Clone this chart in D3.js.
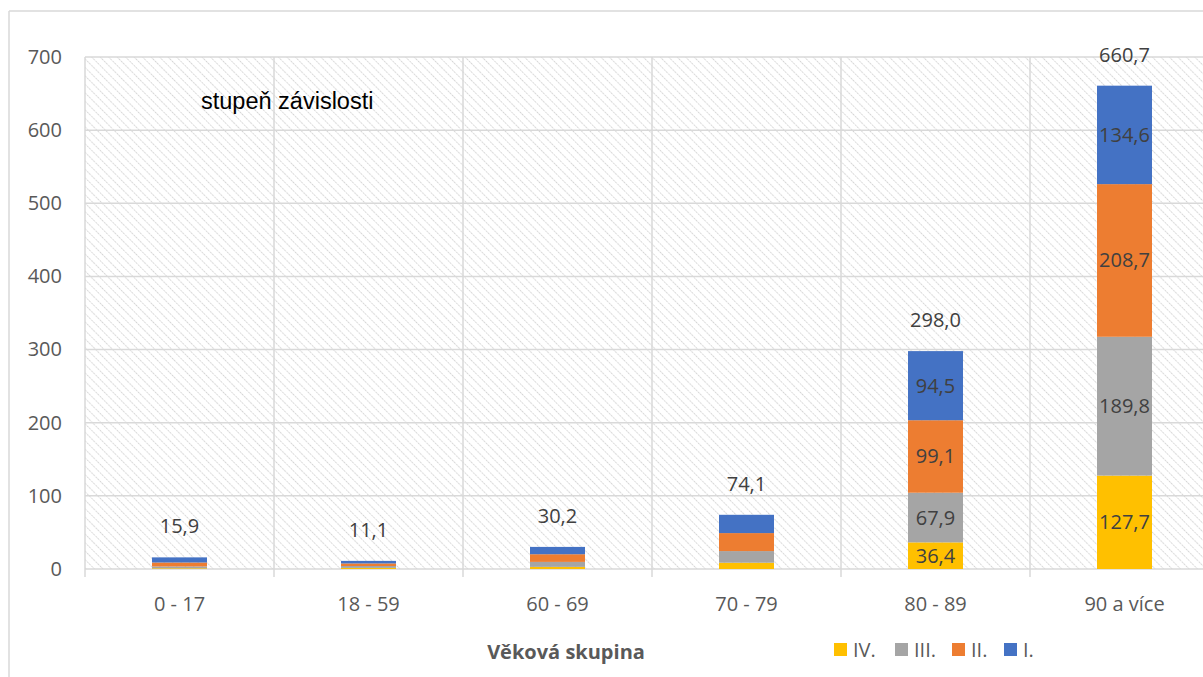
<!DOCTYPE html>
<html><head><meta charset="utf-8">
<script src="https://cdn.jsdelivr.net/npm/d3@7"></script>
<style>body{margin:0;background:#fff;}svg{display:block;}</style>
</head><body>
<svg id="c" width="1203" height="677"></svg>
<script>
const categories = ["0 - 17","18 - 59","60 - 69","70 - 79","80 - 89","90 a více"];
const seriesNames = ["IV.","III.","II.","I."];
const valIV  = [1.0, 1.5, 2.9, 8.6, 36.4, 127.7];
const valIII = [2.5, 2.6, 6.8, 15.9, 67.9, 189.8];
const valII  = [5.4, 3.5, 10.5, 24.6, 99.1, 208.7];
const valI   = [7.0, 3.5, 10.0, 25.0, 94.5, 134.6];
const totals = [15.9, 11.1, 30.2, 74.1, 298.0, 660.7];
const showSegLabels = [false,false,false,false,true,true];
const yTicks = [0,100,200,300,400,500,600,700];
const colors = ["#FFC000","#A5A5A5","#ED7D31","#4472C4"];

(function(){
const svg = d3.select("#c");
const fmt = v => d3.format(".1f")(v).replace(".", ",");
const font = "'Open Sans', sans-serif";
const fs = "20px";

// outer frame
svg.append("line").attr("x1",9).attr("x2",1203).attr("y1",11).attr("y2",11).attr("stroke","#d9d9d9").attr("stroke-width",1.5);
svg.append("line").attr("x1",9).attr("x2",9).attr("y1",11).attr("y2",677).attr("stroke","#d9d9d9").attr("stroke-width",1.5);

const pLeft = 85, catW = 189, pTop = 57, pBottom = 569;
const x = d3.scaleBand().domain(categories).range([pLeft, pLeft + catW*categories.length]).paddingInner(0).paddingOuter(0);
const y = d3.scaleLinear().domain([0,700]).range([pBottom, pTop]);

// hatch pattern
const defs = svg.append("defs");
const pat = defs.append("pattern").attr("id","hatch").attr("patternUnits","userSpaceOnUse")
  .attr("width",6).attr("height",6).attr("patternTransform","rotate(-45)");
pat.append("rect").attr("width",6).attr("height",6).attr("fill","#fff");
pat.append("line").attr("x1",0).attr("y1",0).attr("x2",0).attr("y2",6).attr("stroke","#d4d4d4").attr("stroke-width",2).attr("stroke-dasharray","1.6,1.2");

svg.append("rect").attr("x",pLeft).attr("y",pTop).attr("width",catW*categories.length).attr("height",pBottom-pTop).attr("fill","url(#hatch)");

// grid
const g = svg.append("g");
yTicks.forEach(t => {
  g.append("line").attr("x1",pLeft).attr("x2",pLeft+catW*6).attr("y1",y(t)).attr("y2",y(t))
   .attr("stroke","#d9d9d9").attr("stroke-width",1.5);
});
categories.forEach((c,i) => {
  const xx = x(c);
  g.append("line").attr("x1",xx).attr("x2",xx).attr("y1",pTop).attr("y2",pBottom+8).attr("stroke","#d9d9d9").attr("stroke-width",1.5);
});

// y axis labels
const yAxis = d3.axisLeft(y).tickValues(yTicks).tickSize(0).tickPadding(0);
const ya = svg.append("g").attr("transform",`translate(62,0)`).call(yAxis);
ya.select(".domain").remove();
ya.selectAll("text").attr("font-family",font).attr("font-size",fs).attr("fill","#595959");

// x axis labels
const xAxis = d3.axisBottom(x).tickSize(0).tickPadding(0);
const xa = svg.append("g").attr("transform",`translate(0,${pBottom+28})`).call(xAxis);
xa.select(".domain").remove();
xa.selectAll("text").attr("font-family",font).attr("font-size",fs).attr("fill","#595959");

// stacked bars
const data = categories.map((c,i) => ({cat:c, "IV.":valIV[i], "III.":valIII[i], "II.":valII[i], "I.":valI[i]}));
const stack = d3.stack().keys(seriesNames)(data);
const barW = 55;
stack.forEach((s,si) => {
  s.forEach((d,i) => {
    const cx = x(categories[i]) + x.bandwidth()/2;
    svg.append("rect").attr("x",cx-barW/2).attr("y",y(d[1])).attr("width",barW)
      .attr("height",y(d[0])-y(d[1])).attr("fill",colors[si]);
    if (showSegLabels[i]) {
      svg.append("text").attr("x",cx).attr("y",(y(d[0])+y(d[1]))/2).attr("dy","0.35em")
        .attr("text-anchor","middle").attr("font-family",font).attr("font-size",fs)
        .attr("fill","#404040").text(fmt(d[1]-d[0]));
    }
  });
});

// totals
categories.forEach((c,i) => {
  const cx = x(c) + x.bandwidth()/2;
  svg.append("text").attr("x",cx).attr("y",y(totals[i]) - 31).attr("dy","0.35em")
    .attr("text-anchor","middle").attr("font-family",font).attr("font-size",fs)
    .attr("fill","#404040").text(fmt(totals[i]));
});

// annotation
svg.append("text").attr("x",201).attr("y",109).attr("font-family","'Liberation Sans', Arial, sans-serif")
  .attr("font-size","23.5px").attr("fill","#000").text("stupeň závislosti");

// axis title
svg.append("text").attr("x",566).attr("y",659).attr("text-anchor","middle").attr("font-family",font)
  .attr("font-size",fs).attr("font-weight","bold").attr("fill","#595959").text("Věková skupina");

// legend
const legX = [834, 895, 952, 1004];
seriesNames.forEach((n,i) => {
  svg.append("rect").attr("x",legX[i]).attr("y",643).attr("width",13).attr("height",13).attr("fill",colors[i]);
  svg.append("text").attr("x",legX[i]+19).attr("y",657).attr("font-family",font).attr("font-size",fs)
    .attr("fill","#595959").text(n);
});
})();
</script>
</body></html>
